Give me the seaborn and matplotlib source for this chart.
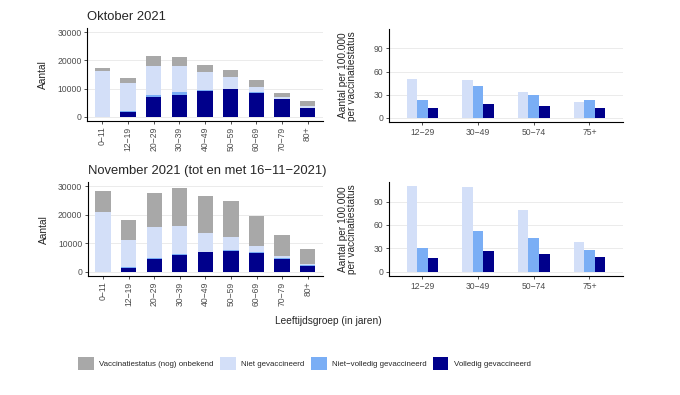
import matplotlib
matplotlib.use('Agg')
import matplotlib.pyplot as plt
from matplotlib.patches import Patch
import numpy as np
import pandas as pd
import seaborn as sns

# leeftijdsgroepen (absolute aantallen)
leeftijd = ['0−11', '12−19', '20−29', '30−39', '40−49', '50−59', '60−69', '70−79', '80+']

okt_volledig = [0, 1600, 6900, 7800, 9200, 9700, 8500, 6200, 3000]
okt_nietvolledig = [0, 500, 700, 1000, 250, 200, 300, 250, 200]
okt_niet = [16150, 9700, 10400, 9200, 6450, 4200, 1800, 450, 500]
okt_onbekend = [1150, 1850, 3700, 3200, 2550, 2500, 2300, 1600, 1800]

nov_volledig = [0, 1400, 4600, 5950, 6900, 7300, 6650, 4600, 2050]
nov_nietvolledig = [0, 200, 400, 250, 200, 300, 250, 200, 250]
nov_niet = [21100, 9600, 10600, 9800, 6400, 4800, 2300, 900, 450]
nov_onbekend = [7300, 6900, 12100, 13300, 13100, 12300, 10300, 7400, 5250]

# per 100.000 per vaccinatiestatus
groep_inc = ['12−29', '30−49', '50−74', '75+']
okt_inc_niet = [50.2, 48.5, 33.8, 19.9]
okt_inc_nietvolledig = [22.5, 40.7, 29.4, 22.5]
okt_inc_volledig = [12.1, 17.3, 14.7, 12.1]
nov_inc_niet = [109.7, 108.9, 79.7, 38.6]
nov_inc_nietvolledig = [30.9, 52.3, 43.7, 28.3]
nov_inc_volledig = [17.1, 26.6, 23.1, 18.9]

statussen = ['Vaccinatiestatus (nog) onbekend', 'Niet gevaccineerd',
             'Niet−volledig gevaccineerd', 'Volledig gevaccineerd']
kleuren = ['#A8A8A8', '#D3DFF8', '#7AAEF5', '#00008B']

sns.set_theme(style='white')
plt.rcParams['font.family'] = ['Liberation Sans', 'DejaVu Sans']

fig = plt.figure(figsize=(6.8, 3.95), dpi=100)

ax_okt = fig.add_axes([0.128, 0.694, 0.347, 0.235])
ax_nov = fig.add_axes([0.129, 0.301, 0.346, 0.238])
ax_okt_inc = fig.add_axes([0.572, 0.691, 0.344, 0.235])
ax_nov_inc = fig.add_axes([0.572, 0.301, 0.344, 0.238])


def stacked(ax, volledig, nietvolledig, niet, onbekend):
    v = np.array(volledig)
    nv = np.array(nietvolledig)
    n = np.array(niet)
    o = np.array(onbekend)
    lagen = [v + nv + n + o, v + nv + n, v + nv, v]
    for hoogte, kleur in zip(lagen, kleuren):
        sns.barplot(x=leeftijd, y=hoogte, order=leeftijd, color=kleur,
                    saturation=1, width=0.6, errorbar=None, ax=ax,
                    linewidth=0, edgecolor='none')
    ax.set_xlim(-0.6, 8.6)
    ax.set_ylim(-1500, 31500)
    ax.set_yticks([0, 10000, 20000, 30000])
    ax.tick_params(axis='x', labelrotation=90)
    ax.set_ylabel('Aantal', fontsize=7.3)
    ax.yaxis.set_label_coords(-0.165, 0.5)


def dodged(ax, niet, nietvolledig, volledig):
    df = pd.DataFrame({
        'groep': groep_inc * 3,
        'status': [statussen[1]] * 4 + [statussen[2]] * 4 + [statussen[3]] * 4,
        'waarde': list(niet) + list(nietvolledig) + list(volledig),
    })
    sns.barplot(data=df, x='groep', y='waarde', hue='status',
                hue_order=statussen[1:], palette=kleuren[1:], saturation=1,
                width=0.57, gap=0, errorbar=None, legend=False, ax=ax,
                linewidth=0, edgecolor='none')
    ax.set_xlim(-0.6, 3.6)
    ax.set_ylim(-5.7, 115)
    ax.set_yticks([0, 30, 60, 90])
    ax.set_ylabel('Aantal per 100.000\nper vaccinatiestatus', fontsize=7.3,
                  linespacing=0.95)
    ax.yaxis.set_label_coords(-0.135, 0.5)


stacked(ax_okt, okt_volledig, okt_nietvolledig, okt_niet, okt_onbekend)
stacked(ax_nov, nov_volledig, nov_nietvolledig, nov_niet, nov_onbekend)
dodged(ax_okt_inc, okt_inc_niet, okt_inc_nietvolledig, okt_inc_volledig)
dodged(ax_nov_inc, nov_inc_niet, nov_inc_nietvolledig, nov_inc_volledig)

for ax in [ax_okt, ax_nov, ax_okt_inc, ax_nov_inc]:
    ax.set_xlabel('')
    sns.despine(ax=ax)
    for s in ['left', 'bottom']:
        ax.spines[s].set_color('black')
        ax.spines[s].set_linewidth(0.8)
    ax.yaxis.grid(True, color='#EBEBEB', linewidth=0.7)
    ax.set_axisbelow(True)
    ax.tick_params(labelsize=6.2, labelcolor='#4D4D4D', color='#333333',
                   length=2.5, width=0.6, pad=1.5, left=True, bottom=True)

ax_okt.set_title('Oktober 2021', loc='left', fontsize=9.4, pad=6)
ax_nov.set_title('November 2021 (tot en met 16−11−2021)', loc='left',
                 fontsize=9.4, pad=6)

fig.text(328 / 680, 1 - 321 / 395, 'Leeftijdsgroep (in jaren)',
         ha='center', va='center', fontsize=7.3)

handles = [Patch(facecolor=k, edgecolor='none') for k in kleuren]
fig.legend(handles, statussen, loc='center', ncol=4, frameon=False,
           bbox_to_anchor=(304.5 / 680, 1 - 363.5 / 395), fontsize=5.7,
           handlelength=2.0, handleheight=2.1, handletextpad=0.65,
           columnspacing=0.8)

fig.savefig('out.png', dpi=100)
